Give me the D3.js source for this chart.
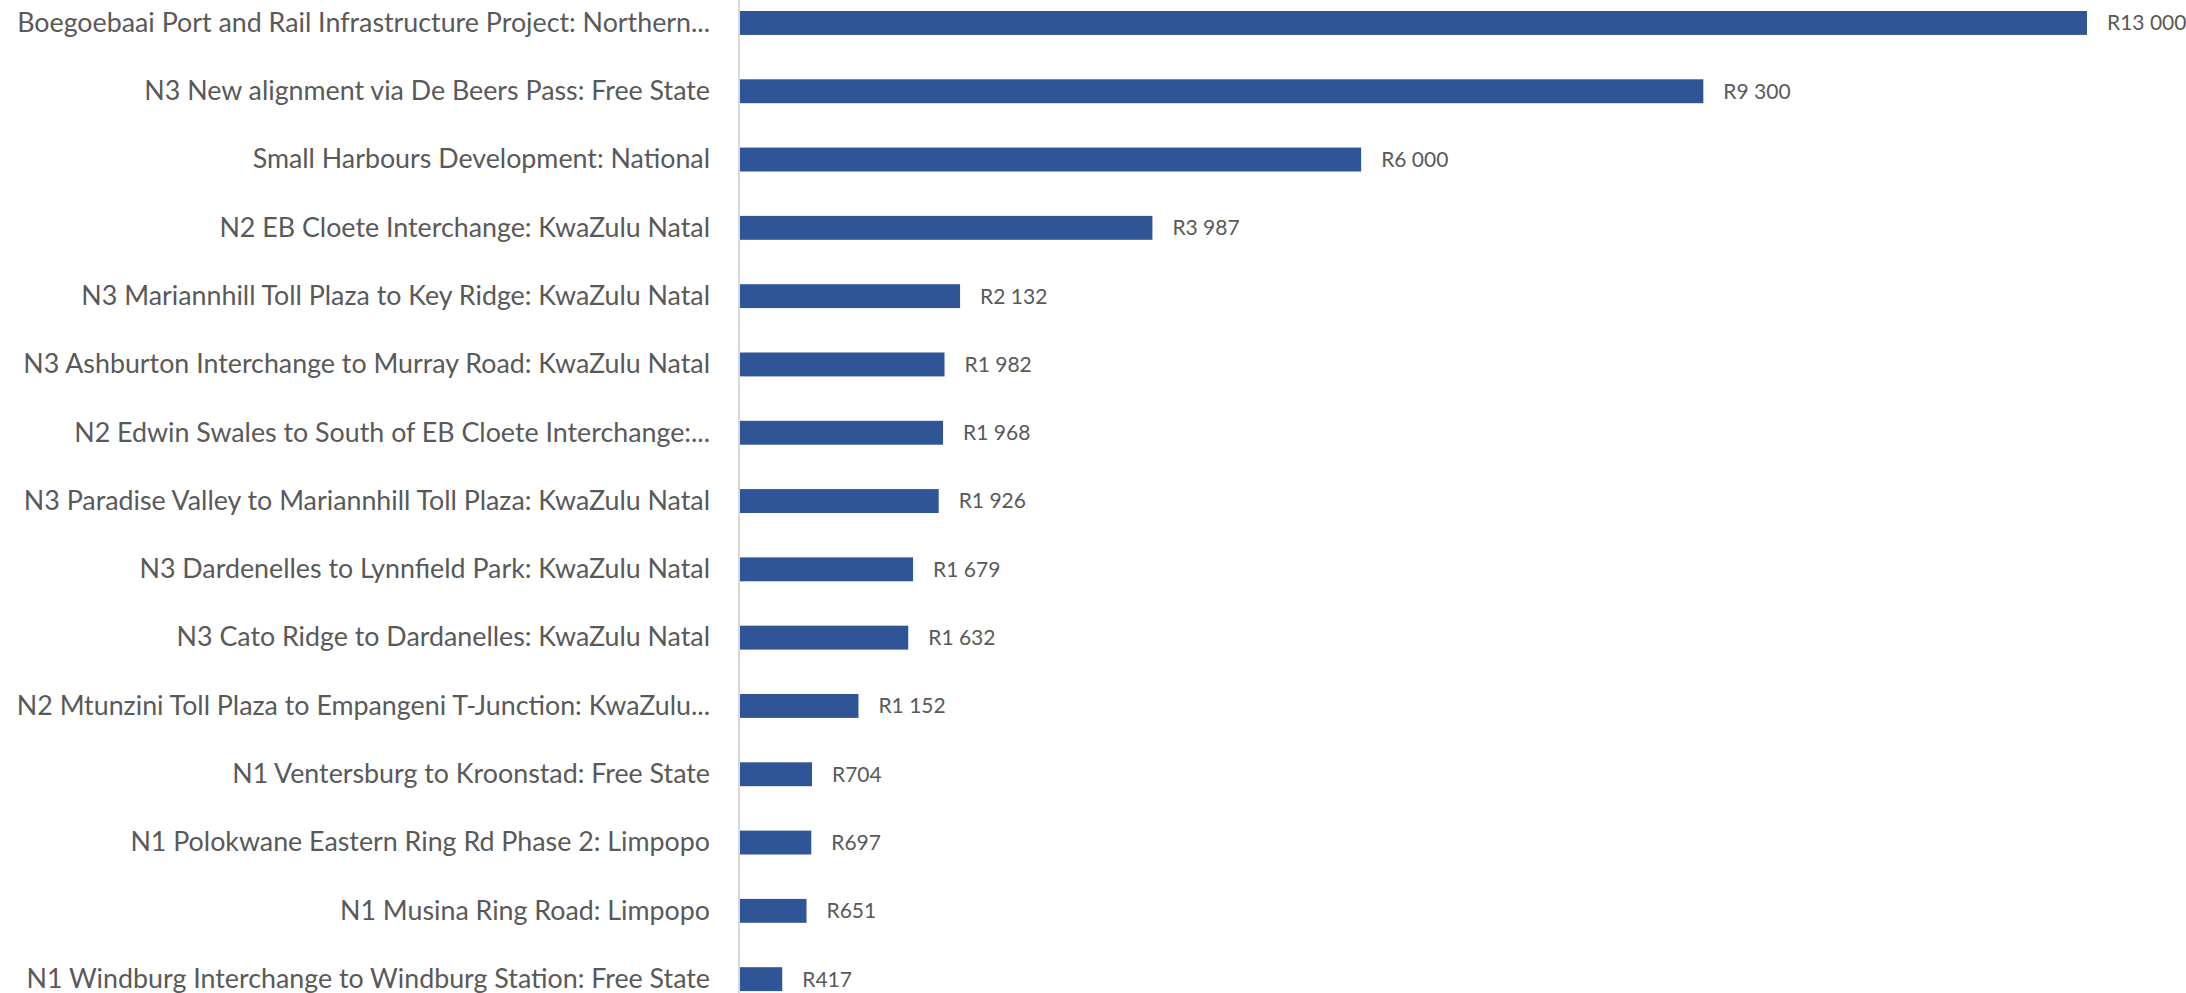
<!DOCTYPE html>
<html>
<head>
<meta charset="utf-8">
<script src="https://cdn.jsdelivr.net/npm/d3@7"></script>
<style>
  html, body { margin: 0; padding: 0; background: #fff; overflow: hidden; }
  text { font-family: Lato, "Liberation Sans", sans-serif; fill: #595959; }
</style>
</head>
<body>
<div id="chart"></div>
<script>
// chart size, same as the window
const width = 2186;
const height = 993;

// project names as they show on the axis (long ones are cut by the chart)
const projects = [
    "Boegoebaai Port and Rail Infrastructure Project: Northern...",
    "N3 New alignment via De Beers Pass: Free State",
    "Small Harbours Development: National",
    "N2 EB Cloete Interchange: KwaZulu Natal",
    "N3 Mariannhill Toll Plaza to Key Ridge: KwaZulu Natal",
    "N3 Ashburton Interchange to Murray Road: KwaZulu Natal",
    "N2 Edwin Swales to South of EB Cloete Interchange:...",
    "N3 Paradise Valley to Mariannhill Toll Plaza: KwaZulu Natal",
    "N3 Dardenelles to Lynnfield Park: KwaZulu Natal",
    "N3 Cato Ridge to Dardanelles: KwaZulu Natal",
    "N2 Mtunzini Toll Plaza to Empangeni T-Junction: KwaZulu...",
    "N1 Ventersburg to Kroonstad: Free State",
    "N1 Polokwane Eastern Ring Rd Phase 2: Limpopo",
    "N1 Musina Ring Road: Limpopo",
    "N1 Windburg Interchange to Windburg Station: Free State"
];

// project cost, R million
const costs = [13000, 9300, 6000, 3987, 2132, 1982, 1968, 1926, 1679, 1632, 1152, 704, 697, 651, 417];

const data = projects.map(function(p, i) { return { name: p, value: costs[i] }; });

const svg = d3.select("#chart")
    .append("svg")
    .attr("width", width)
    .attr("height", height);

const axisX = 739;

const x = d3.scaleLinear()
    .domain([0, 13000])
    .range([axisX, 2087]);

// bands are centred from about y=23 down to y=980
const y = d3.scaleBand()
    .domain(projects)
    .range([-11.2, 1013.3])
    .paddingInner(0.65)
    .paddingOuter(0.325);

// "R13 000" style labels
const locale = d3.formatLocale({ decimal: ".", thousands: " ", grouping: [3], currency: ["R", ""] });
const fmt = locale.format("$,.0f");

// bars
svg.append("g")
    .selectAll("rect")
    .data(data)
    .join("rect")
    .attr("x", axisX + 1)
    .attr("y", function(d) { return y(d.name); })
    .attr("width", function(d) { return x(d.value) - axisX - 1; })
    .attr("height", y.bandwidth())
    .attr("fill", "#2F5597");

// category axis line
svg.append("line")
    .attr("x1", axisX).attr("x2", axisX)
    .attr("y1", 0).attr("y2", height)
    .attr("stroke", "#D9D9D9")
    .attr("stroke-width", 2);

// category labels
svg.append("g")
    .selectAll("text")
    .data(data)
    .join("text")
    .attr("x", 710)
    .attr("y", function(d) { return y(d.name) + y.bandwidth() / 2; })
    .attr("dy", "0.33em")
    .attr("text-anchor", "end")
    .style("font-size", "26.8px")
    .text(function(d) { return d.name; });

// value labels
svg.append("g")
    .selectAll("text")
    .data(data)
    .join("text")
    .attr("x", function(d) { return x(d.value) + 20; })
    .attr("y", function(d) { return y(d.name) + y.bandwidth() / 2; })
    .attr("dy", "0.35em")
    .style("font-size", "21px")
    .text(function(d) { return fmt(d.value); });
</script>
</body>
</html>
